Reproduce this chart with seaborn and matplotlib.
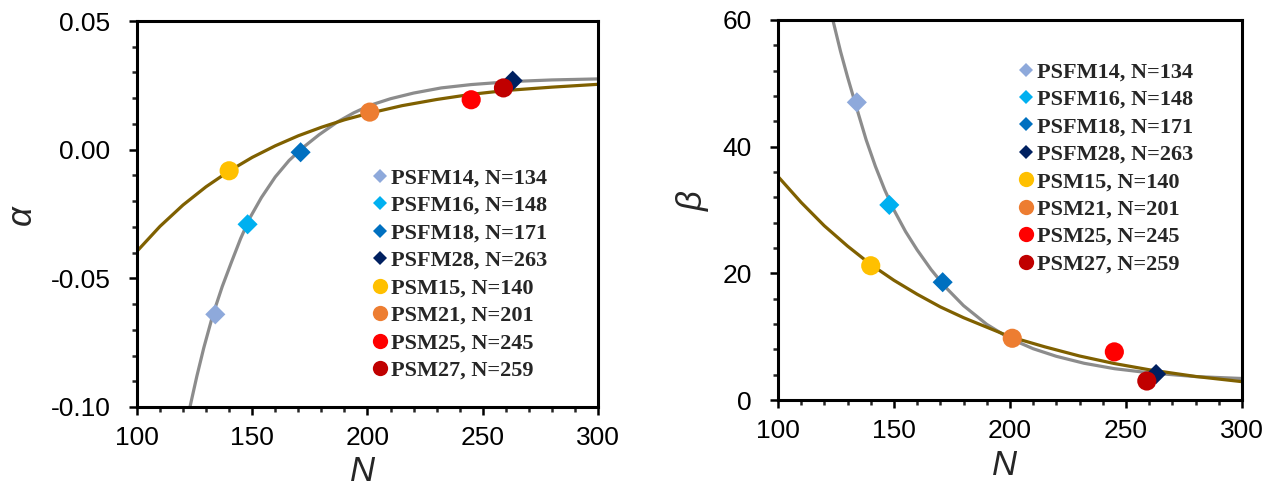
import matplotlib
matplotlib.use("Agg")
import numpy as np
import pandas as pd
import matplotlib.pyplot as plt
import seaborn as sns
from matplotlib.lines import Line2D
from matplotlib.ticker import MultipleLocator, FormatStrFormatter
from matplotlib.font_manager import FontProperties

# ---------------- data ----------------
samples = ["PSFM14", "PSFM16", "PSFM18", "PSFM28", "PSM15", "PSM21", "PSM25", "PSM27"]
chain_N = [134, 148, 171, 263, 140, 201, 245, 259]
alpha_vals = [-0.064, -0.029, -0.001, 0.0268, -0.0082, 0.0146, 0.0194, 0.0240]
beta_vals = [47.0, 30.8, 18.6, 4.1, 21.2, 9.75, 7.6, 3.0]
families = ["PSFM", "PSFM", "PSFM", "PSFM", "PSM", "PSM", "PSM", "PSM"]
colors = ["#8EA9DB", "#00B0F0", "#0070C0", "#002060",
          "#FFC000", "#ED7D31", "#FF0000", "#C00000"]

# fitted curves
fit_alpha_psfm_N = [123, 126, 129, 133, 137, 141, 145, 149, 154, 160, 166, 172, 179, 187,
                    194, 201, 210, 220, 232, 245, 263, 280, 300]
fit_alpha_psfm = [-0.100, -0.0880, -0.0770, -0.0640, -0.0532, -0.0437, -0.0345, -0.0265,
                  -0.0186, -0.0106, -0.0042, 0.0008, 0.0058, 0.0108, 0.0143, 0.0172, 0.0198,
                  0.0220, 0.0240, 0.0253, 0.0265, 0.0271, 0.0275]
fit_alpha_psm_N = [100, 110, 120, 130, 140, 150, 160, 170, 180, 190, 200, 215, 230, 245, 260, 280, 300]
fit_alpha_psm = [-0.0395, -0.0298, -0.0215, -0.0144, -0.0083, -0.0030, 0.0015, 0.0054, 0.0087,
                 0.0116, 0.0140, 0.0171, 0.0195, 0.0215, 0.0230, 0.0243, 0.0254]

fit_beta_psfm_N = [122, 124, 127, 130, 134, 138, 142, 146, 150, 155, 160, 166, 172, 180, 190,
                   200, 210, 220, 232, 245, 260, 280, 300]
fit_beta_psfm = [62.8, 59.5, 55.0, 51.0, 46.0, 41.1, 36.9, 33.2, 30.0, 26.6, 23.7, 20.6, 17.9,
                 14.9, 11.95, 9.7, 8.1, 6.9, 5.8, 4.95, 4.3, 3.7, 3.4]
fit_beta_psm_N = [100, 110, 120, 130, 140, 150, 160, 170, 180, 190, 200, 215, 230, 245, 260, 280, 300]
fit_beta_psm = [35.3, 31.2, 27.5, 24.3, 21.4, 18.9, 16.7, 14.7, 13.0, 11.5, 10.0, 8.4, 6.95,
                5.76, 4.78, 3.72, 2.9]

# ---------------- style ----------------
sns.set_style("white")
plt.rcParams["font.family"] = ["Liberation Sans", "DejaVu Sans"]
plt.rcParams["axes.unicode_minus"] = False

GRAY = "#8C8C8C"
OLIVE = "#7F6000"

df = pd.DataFrame({"sample": samples, "N": chain_N, "alpha": alpha_vals,
                   "beta": beta_vals, "family": families})
palette = dict(zip(samples, colors))

fig = plt.figure(figsize=(12.81, 4.91), dpi=100)
ax1 = fig.add_axes([0.1069, 0.1711, 0.3599, 0.7861])
ax2 = fig.add_axes([0.6073, 0.1853, 0.3622, 0.7740])

panels = [
    (ax1, "alpha", fit_alpha_psfm_N, fit_alpha_psfm, fit_alpha_psm_N, fit_alpha_psm),
    (ax2, "beta", fit_beta_psfm_N, fit_beta_psfm, fit_beta_psm_N, fit_beta_psm),
]

for ax, ycol, fN1, fy1, fN2, fy2 in panels:
    sns.lineplot(x=fN1, y=fy1, color=GRAY, lw=2.3, ax=ax, sort=False, estimator=None, zorder=1)
    sns.lineplot(x=fN2, y=fy2, color=OLIVE, lw=2.3, ax=ax, sort=False, estimator=None, zorder=2)
    sub1 = df[df["family"] == "PSFM"]
    sub2 = df[df["family"] == "PSM"]
    sns.scatterplot(data=sub1, x="N", y=ycol, hue="sample", palette=palette, marker="D",
                    s=105, linewidth=0, ax=ax, legend=False, zorder=3)
    sns.scatterplot(data=sub2, x="N", y=ycol, hue="sample", palette=palette, marker="o",
                    s=190, linewidth=0, ax=ax, legend=False, zorder=3)

    ax.set_xlim(100, 300)
    ax.xaxis.set_major_locator(MultipleLocator(50))
    ax.xaxis.set_minor_locator(MultipleLocator(10))
    for sp in ax.spines.values():
        sp.set_linewidth(2.2)
        sp.set_color("black")
    ax.tick_params(which="major", direction="out", length=6, width=1.8,
                   labelsize=19, colors="black", left=True, bottom=True, top=False, right=False)
    ax.tick_params(which="minor", direction="out", length=3.5, width=1.8,
                   left=True, bottom=True, top=False, right=False)
    ax.tick_params(axis="y", pad=13)
    ax.tick_params(axis="x", pad=8)

    handles = []
    for s_, c_, f_ in zip(samples, colors, families):
        if f_ == "PSFM":
            handles.append(Line2D([], [], linestyle="none", marker="D", markersize=6.8,
                                  markerfacecolor=c_, markeredgewidth=0))
        else:
            handles.append(Line2D([], [], linestyle="none", marker="o", markersize=11,
                                  markerfacecolor=c_, markeredgewidth=0))
    labels = [f"{s_}, N={n_}" for s_, n_ in zip(samples, chain_N)]
    legend_anchor = (0.507, 0.619) if ax is ax1 else (0.515, 0.890)
    ax.legend(handles, labels, loc="upper left", bbox_to_anchor=legend_anchor,
              frameon=False, prop=FontProperties(family="Liberation Serif", weight="bold", size=16),
              handletextpad=0.1, labelspacing=0.31, handlelength=0.8, borderpad=0,
              borderaxespad=0)

ax1.set_ylim(-0.10, 0.05)
ax1.yaxis.set_major_locator(MultipleLocator(0.05))
ax1.yaxis.set_minor_locator(MultipleLocator(0.01))
ax1.yaxis.set_major_formatter(FormatStrFormatter("%.2f"))

ax2.set_ylim(0, 60)
ax2.yaxis.set_major_locator(MultipleLocator(20))
ax2.yaxis.set_minor_locator(MultipleLocator(4))

lab = dict(fontsize=25, fontstyle="italic")
ax1.set_xlabel("N", **lab)
ax1.set_ylabel("α", **lab)
ax2.set_xlabel("N", **lab)
ax2.set_ylabel("β", **lab)
ax1.xaxis.set_label_coords(0.49, -0.125)
ax2.xaxis.set_label_coords(0.489, -0.13)
ax1.yaxis.set_label_coords(-0.215, 0.497)
ax2.yaxis.set_label_coords(-0.147, 0.524)

fig.savefig("out.png", dpi=100)
